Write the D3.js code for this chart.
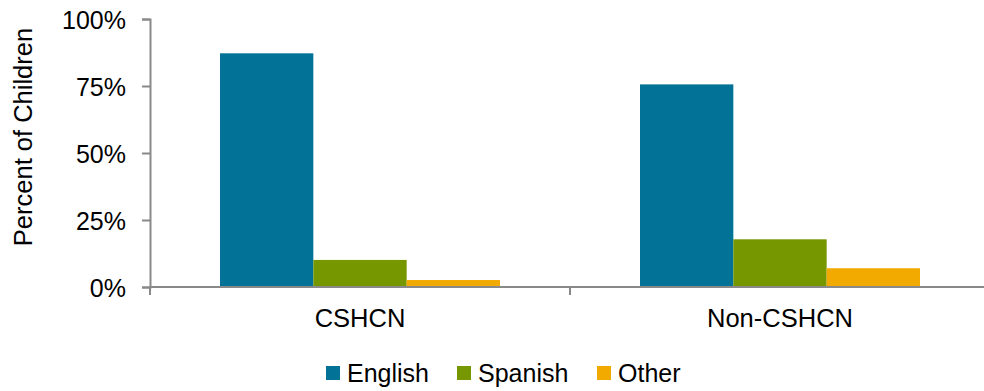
<!DOCTYPE html>
<html>
<head>
<meta charset="utf-8">
<script src="https://cdn.jsdelivr.net/npm/d3@7"></script>
<style>
  body { margin: 0; background: #fff; }
  svg text { font-family: "Liberation Sans", Arial, sans-serif; fill: #000; }
</style>
</head>
<body>
<div id="chart"></div>
<script>
// Data
var categories = ['CSHCN', 'Non-CSHCN'];
var seriesNames = ['English', 'Spanish', 'Other'];
var english = [87.2, 75.6];
var spanish = [10.1, 17.8];
var other = [2.6, 7.0];
var yTicks = [0, 25, 50, 75, 100];

var colors = ['#027296', '#769700', '#F2A900'];
var seriesValues = [english, spanish, other];

var width = 984, height = 391;
var margin = {top: 19, left: 150, bottom: 104, right: -6};

var svg = d3.select('#chart').append('svg')
  .attr('width', width)
  .attr('height', height);

// Scales
var x = d3.scaleBand()
  .domain(categories)
  .range([margin.left, width - margin.right]);

var x1 = d3.scaleBand()
  .domain(seriesNames)
  .range([70, x.bandwidth() - 70]);

var y = d3.scaleLinear()
  .domain([0, 100])
  .range([height - margin.bottom, margin.top]);

// Bars
var groups = svg.selectAll('.cat')
  .data(categories)
  .enter()
  .append('g')
  .attr('transform', function (d) { return 'translate(' + x(d) + ',0)'; });

groups.selectAll('rect')
  .data(function (d, i) {
    return seriesNames.map(function (s, j) { return {series: s, value: seriesValues[j][i], idx: j}; });
  })
  .enter()
  .append('rect')
  .attr('x', function (d) { return x1(d.series); })
  .attr('width', x1.bandwidth())
  .attr('y', function (d) { return y(d.value); })
  .attr('height', function (d) { return y(0) - y(d.value); })
  .attr('fill', function (d) { return colors[d.idx]; });

// Y axis
var yAxis = svg.append('g')
  .attr('transform', 'translate(' + margin.left + ',0)')
  .call(d3.axisLeft(y).tickValues(yTicks).tickSize(8).tickPadding(16)
    .tickFormat(function (d) { return d + '%'; }));
yAxis.select('.domain').attr('stroke', '#898989').attr('stroke-width', 2);
yAxis.selectAll('.tick line').attr('stroke', '#898989').attr('stroke-width', 2);
yAxis.selectAll('.tick text')
  .style('font-size', '25px')
  .attr('dy', '0.38em');

// X axis
var xAxis = svg.append('g')
  .attr('transform', 'translate(0,' + y(0) + ')');
xAxis.append('line')
  .attr('x1', margin.left).attr('x2', width - margin.right)
  .attr('stroke', '#898989').attr('stroke-width', 2);
xAxis.selectAll('.xtick')
  .data([margin.left, x(categories[1])])
  .enter()
  .append('line')
  .attr('x1', function (d) { return d; })
  .attr('x2', function (d) { return d; })
  .attr('y1', 0).attr('y2', 8)
  .attr('stroke', '#898989').attr('stroke-width', 2);
xAxis.selectAll('.xlabel')
  .data(categories)
  .enter()
  .append('text')
  .attr('x', function (d) { return x(d) + x.bandwidth() / 2; })
  .attr('y', 40)
  .style('text-anchor', 'middle')
  .style('font-size', '25.5px')
  .text(function (d) { return d; });

// Y title
svg.append('text')
  .attr('transform', 'translate(32,' + (margin.top + 118) + ') rotate(-90)')
  .style('text-anchor', 'middle')
  .style('font-size', '25.5px')
  .text('Percent of Children');

// Legend
var legendX = [326, 457, 597];
var legend = svg.append('g');
var items = legend.selectAll('.legendItem')
  .data(seriesNames)
  .enter()
  .append('g')
  .attr('transform', function (d, i) { return 'translate(' + legendX[i] + ',366)'; });

items.append('rect')
  .attr('width', 14)
  .attr('height', 14)
  .attr('fill', function (d, i) { return colors[i]; });

items.append('text')
  .attr('x', 21)
  .attr('y', 16)
  .style('font-size', '25px')
  .text(function (d) { return d; });
</script>
</body>
</html>
